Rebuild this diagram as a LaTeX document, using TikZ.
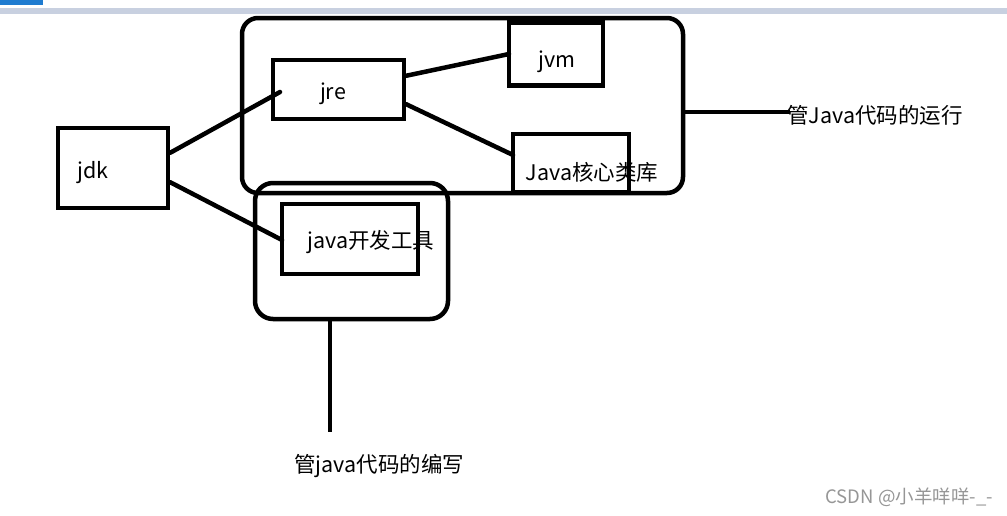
\documentclass[tikz,border=0pt]{standalone}
\usepackage{fontspec}
\setmainfont{Noto Sans CJK SC}
\begin{document}
\begin{tikzpicture}[x=1pt,y=-1pt,
  box/.style={draw=black,line width=4.5pt,minimum width=#1,inner sep=0pt},
  conn/.style={line width=4.5pt,line cap=round},
  lbl/.style={inner sep=0pt,font=\fontsize{21.5}{25}\selectfont}]
\useasboundingbox (0,0) rectangle (1007,515);
\fill[white] (0,0) rectangle (1007,515);
% top bars
\fill[fill={rgb,255:red,200;green,208;blue,224}] (0,8) rectangle (1007,14);
\fill[fill={rgb,255:red,30;green,123;blue,208}] (0,0) rectangle (43,5);
% containers
\draw[line width=4.5pt,rounded corners=16pt] (242,18) rectangle (683,193);
\draw[line width=4.5pt,rounded corners=18pt] (255,183) rectangle (448,319);
% boxes
\node[box=110pt,minimum height=80pt] (jdk) at (113,168) {};
\node[box=131pt,minimum height=59pt] (jre) at (338.5,89.5) {};
\node[box=94pt,minimum height=63pt] (jvm) at (556,54) {};
\node[box=116pt,minimum height=58pt] (core) at (571,163) {};
\node[box=136pt,minimum height=70pt] (tools) at (350,239) {};
% labels
\node[lbl] (tjdk) at (93,173) {jdk};
\node[lbl] (tjre) at (333,94) {jre};
\node[lbl] (tjvm) at (557,62) {jvm};
\node[lbl] (tcore) at (592,172) {Java核心类库};
\node[lbl] (ttools) at (371,242) {java开发工具};
\node[lbl,anchor=west] (trun) at (787,115) {管Java代码的运行};
\node[lbl,anchor=west] (twrite) at (294,466) {管java代码的编写};
\node[inner sep=0pt,anchor=east,text={rgb,255:red,150;green,150;blue,150},font=\fontsize{18.5}{22}\selectfont] (wm) at (993,497) {CSDN @小羊咩咩-\_-};
% connectors
\coordinate (c1) at (280,92);
\coordinate (c2) at (282,240);
\coordinate (c3) at (509,54);
\coordinate (c4) at (513,155);
\coordinate (c5) at (790,112);
\coordinate (c6) at (330,432);
\draw[conn] ([yshift=-27pt]jdk.north east) -- (c1);
\draw[conn] ([yshift=28pt]jdk.south east) -- (c2);
\draw[conn] ([yshift=-18pt]jre.north east) -- (c3);
\draw[conn] ([yshift=17pt]jre.south east) -- (c4);
\draw[line width=4.5pt] (683,112) -- (c5);
\draw[line width=4.5pt] (330,320) -- (c6);
\end{tikzpicture}
\end{document}
